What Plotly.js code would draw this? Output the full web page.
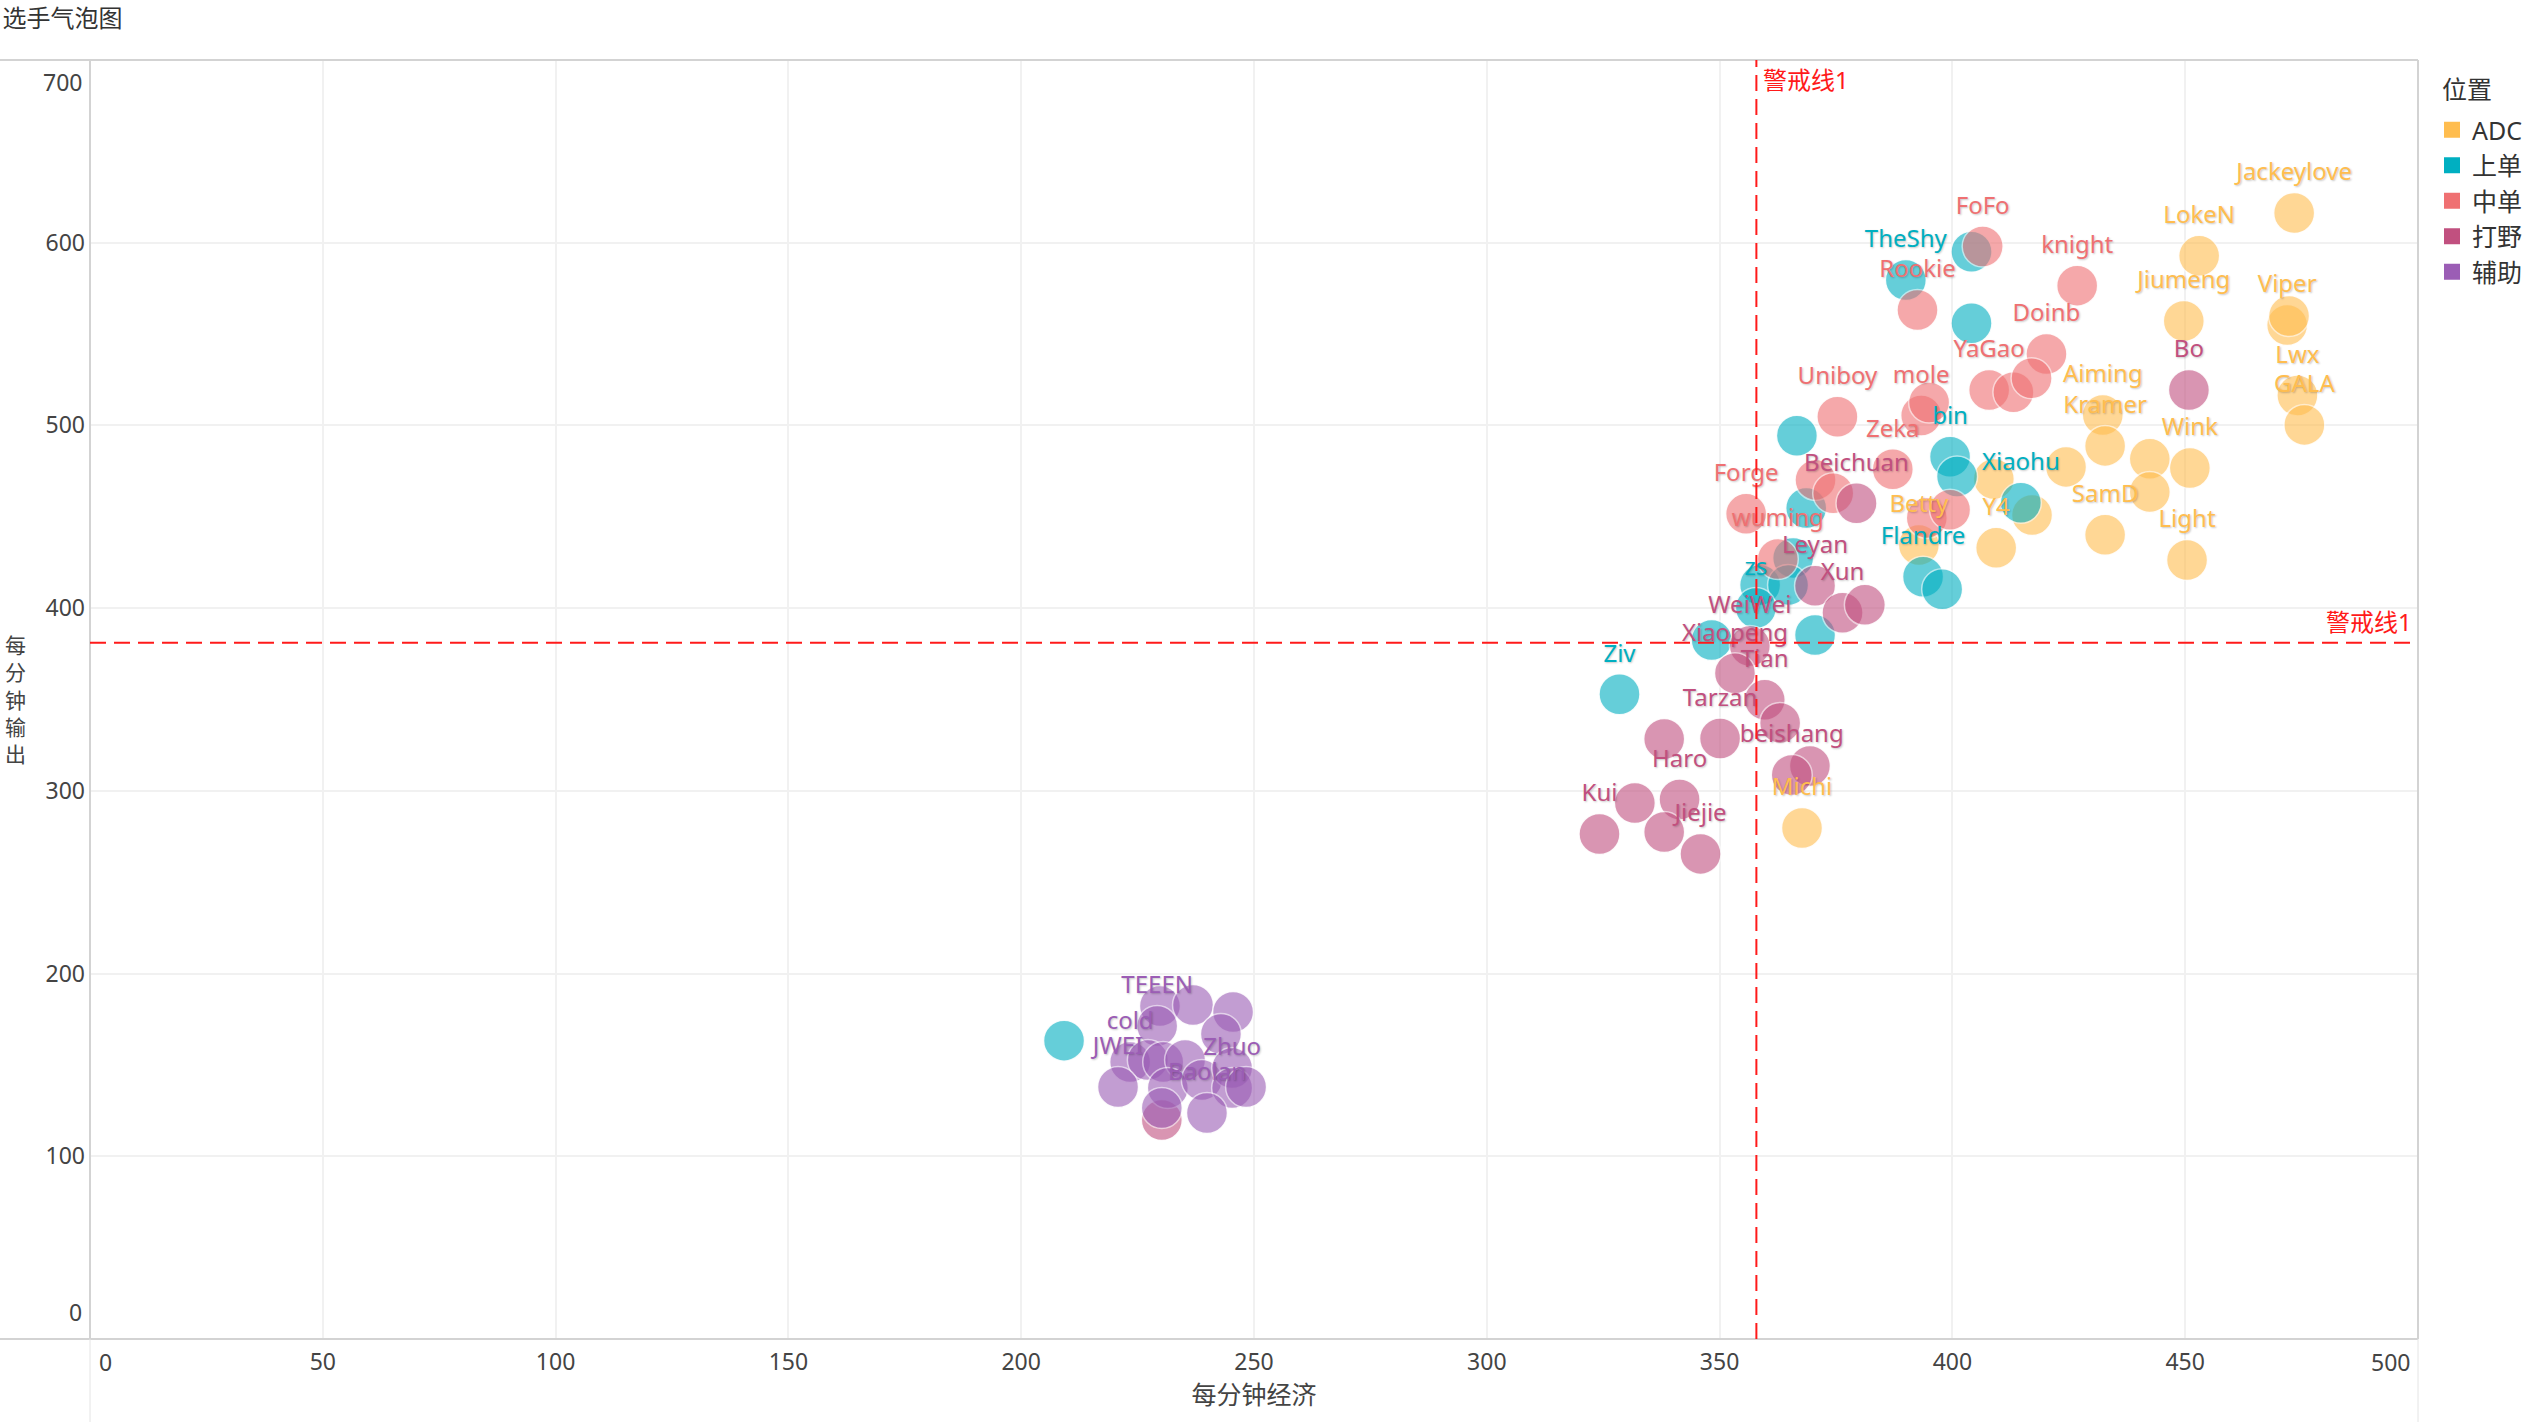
<!DOCTYPE html>
<html>
<head>
<meta charset="utf-8">
<script src="https://cdn.plot.ly/plotly-3.0.1.min.js"></script>
<style>html,body{margin:0;padding:0;background:#fff;}#chart{width:2529px;height:1422px;}</style>
</head>
<body>
<div id="chart"></div>
<script>
// ---- data ----
const categories = ['ADC', '上单', '中单', '打野', '辅助'];
const colors = ['#FFBD4F', '#00AFC1', '#EF7072', '#C1507F', '#9B5DB5'];

const adcNames = ['Jackeylove','LokeN','Jiumeng','Viper','','Lwx','GALA','Aiming','Kramer','Wink','','','','','','SamD','Light','Y4','Betty','Michi'];
const adcX = [473.4,453.0,449.7,471.9,472.3,474.1,475.6,432.3,432.8,451.0,442.4,442.4,424.4,408.9,417.1,432.8,450.4,409.4,392.8,367.7];
const adcY = [616.3,592.8,557.2,555.0,559.9,516.4,500.3,505.7,488.8,476.7,481.7,463.6,477.3,470.7,451.0,440.1,426.4,433.0,434.6,279.7];

const topNames = ['','TheShy','','','bin','','Xiaohu','','Flandre','','','','','zs','','','Ziv',''];
const topX = [404.1,390.0,404.1,366.6,399.5,401.0,414.7,368.6,393.7,397.8,365.8,358.7,364.7,357.8,348.3,370.5,328.5,209.2];
const topY = [595.1,579.6,555.9,494.4,482.9,472.0,457.7,454.8,417.2,410.3,427.5,412.7,412.7,400.1,382.6,385.3,352.9,163.3];

const midNames = ['FoFo','Rookie','knight','Doinb','YaGao','','','Uniboy','mole','','Zeka','','','Forge','','','wuming'];
const midX = [406.5,392.5,426.8,420.2,407.9,413.1,417.0,375.3,393.3,395.0,387.2,370.6,374.4,355.7,394.5,399.5,362.5];
const midY = [597.9,563.2,576.5,539.1,519.4,518.2,525.8,504.8,505.4,512.5,476.0,470.2,462.9,451.6,449.4,453.8,426.9];

const jungNames = ['Bo','Beichuan','Leyan','Xun','','WeiWei','Xiaopeng','Tian','Tarzan','','','beishang','','Haro','','Kui','','Jiejie',''];
const jungX = [450.8,379.4,370.5,376.4,381.2,356.5,353.3,359.7,350.1,363.0,369.4,365.5,338.1,341.4,331.8,324.2,338.1,345.9,230.2];
const jungY = [519.4,457.4,412.2,397.5,401.8,379.3,364.4,349.8,328.7,337.2,313.6,308.7,328.4,295.3,293.4,276.4,277.5,265.5,119.9];

const supNames = ['','','','TEEEN','','cold','','','','JWEI','','','','Zhuo','','Baolan',''];
const supX = [229.8,236.9,245.5,229.2,242.9,223.4,227.2,230.5,235.2,220.8,231.5,238.8,245.3,245.3,248.3,239.9,230.2];
const supY = [182.3,182.8,179.0,171.3,166.9,151.6,152.7,151.6,152.7,137.9,137.4,141.8,148.3,137.4,137.9,123.7,126.4];

const xTicks = [0,50,100,150,200,250,300,350,400,450,500];
const yTicks = [0,100,200,300,400,500,600,700];
const warnX = 357.9;   // 警戒线1 (每分钟经济)
const warnY = 381.0;   // 警戒线1 (每分钟输出)
const warnLabel = '警戒线1';

const titleText = '选手气泡图';
const xTitle = '每分钟经济';
const yTitle = '每分钟输出';
const legendTitle = '位置';

// ---- build ----
const FONT = "'Noto Sans', 'Noto Sans CJK SC', sans-serif";
const TICKC = '#444';
const groups = [
  [adcNames, adcX, adcY],
  [topNames, topX, topY],
  [midNames, midX, midY],
  [jungNames, jungX, jungY],
  [supNames, supX, supY]
];

const traces = [];
groups.forEach((g, i) => {
  traces.push({
    type: 'scatter', mode: 'markers', x: g[1], y: g[2], text: g[0],
    showlegend: false, hoverinfo: 'skip', cliponaxis: false,
    marker: {size: 41, color: colors[i], opacity: 0.6, line: {color: 'rgba(255,255,255,0.9)', width: 1.5}}
  });
});
groups.forEach((g, i) => {
  traces.push({
    type: 'scatter', mode: 'markers+text', x: g[1], y: g[2], text: g[0],
    textposition: 'top center', showlegend: false, hoverinfo: 'skip', cliponaxis: false,
    marker: {size: 41, color: 'rgba(0,0,0,0)', line: {width: 0}},
    textfont: {family: FONT, size: 24, color: colors[i], shadow: '1px 1px 2px rgba(0,0,0,0.22)'}
  });
});
categories.forEach((c, i) => {
  traces.push({
    type: 'scatter', mode: 'markers', x: [null], y: [null], name: c,
    showlegend: true, hoverinfo: 'skip',
    marker: {symbol: 'square', size: 20, color: colors[i]}
  });
});

// edge tick labels (clamped inside the frame, as in the original)
const annotations = [
  {text: String(xTicks[0]), xref: 'x', yref: 'paper', x: xTicks[0], y: 0, xanchor: 'left', yanchor: 'top',
   xshift: 7, yshift: -5, showarrow: false, font: {family: FONT, size: 23, color: TICKC}},
  {text: String(xTicks[xTicks.length - 1]), xref: 'x', yref: 'paper', x: xTicks[xTicks.length - 1], y: 0,
   xanchor: 'right', yanchor: 'top', xshift: -6, yshift: -5, showarrow: false, font: {family: FONT, size: 23, color: TICKC}},
  {text: String(yTicks[0]), xref: 'paper', yref: 'y', x: 0, y: yTicks[0], xanchor: 'right', yanchor: 'bottom',
   xshift: -6, yshift: 9, showarrow: false, font: {family: FONT, size: 23, color: TICKC}},
  {text: String(yTicks[yTicks.length - 1]), xref: 'paper', yref: 'y', x: 0, y: yTicks[yTicks.length - 1],
   xanchor: 'right', yanchor: 'top', xshift: -6, yshift: -4, showarrow: false, font: {family: FONT, size: 23, color: TICKC}},
  {text: warnLabel, xref: 'x', yref: 'paper', x: warnX, y: 1, xanchor: 'left', yanchor: 'top',
   xshift: 5, yshift: -1, showarrow: false, font: {family: FONT, size: 24, color: '#ff1a1a'}},
  {text: warnLabel, xref: 'paper', yref: 'y', x: 1, y: warnY, xanchor: 'right', yanchor: 'bottom',
   xshift: -4, yshift: 3, showarrow: false, font: {family: FONT, size: 24, color: '#ff1a1a'}},
  // stacked y-axis title
  {text: yTitle.split('').join('<br>'), xref: 'paper', yref: 'paper', x: -0.0318, y: 0.5,
   xanchor: 'center', yanchor: 'middle', showarrow: false, font: {family: FONT, size: 21, color: TICKC}},
  // legend title
  {text: legendTitle, xref: 'paper', yref: 'paper', x: (2440 - 90) / 2328, y: 1 - (89 - 60) / 1279,
   xanchor: 'left', yanchor: 'middle', showarrow: false, font: {family: FONT, size: 25, color: '#333'}}
];

const frame = '#d3d3d3';
const layout = {
  width: 2529, height: 1422,
  paper_bgcolor: '#fff', plot_bgcolor: '#fff',
  margin: {l: 90, r: 111, t: 60, b: 83, pad: 0},
  hovermode: false,
  font: {family: FONT, size: 23, color: '#333'},
  title: {text: titleText, font: {family: FONT, size: 24, color: '#333'},
          xref: 'container', x: 0.001, xanchor: 'left', yref: 'container', y: 0.987, yanchor: 'middle'},
  xaxis: {
    range: [0, 500], tickvals: xTicks.slice(1, -1), ticktext: xTicks.slice(1, -1).map(String),
    showgrid: true, gridcolor: '#f1f1f1', gridwidth: 2, zeroline: false, showline: false,
    ticks: '', ticklabelstandoff: 7, tickfont: {family: FONT, size: 23, color: TICKC},
    title: {text: xTitle, font: {family: FONT, size: 25, color: TICKC}, standoff: 7},
    automargin: false, fixedrange: true
  },
  yaxis: {
    range: [0, 700], tickvals: yTicks.slice(1, -1), ticktext: yTicks.slice(1, -1).map(String),
    showgrid: true, gridcolor: '#f1f1f1', gridwidth: 2, zeroline: false, showline: false,
    ticks: '', ticklabelstandoff: 4, tickfont: {family: FONT, size: 23, color: TICKC},
    automargin: false, fixedrange: true
  },
  legend: {
    xref: 'container', yref: 'container',
    x: 2432 / 2529, xanchor: 'left', y: 1 - 107 / 1422, yanchor: 'top',
    bgcolor: 'rgba(0,0,0,0)', borderwidth: 0,
    font: {family: FONT, size: 25, color: '#333'},
    itemsizing: 'trace', itemclick: false, itemdoubleclick: false
  },
  shapes: [
    // frame
    {type: 'line', xref: 'paper', yref: 'paper', x0: -0.0387, x1: 1, y0: 1, y1: 1, line: {color: frame, width: 2}},
    {type: 'line', xref: 'paper', yref: 'paper', x0: -0.0387, x1: 1, y0: 0, y1: 0, line: {color: frame, width: 2}},
    {type: 'line', xref: 'paper', yref: 'paper', x0: 0, x1: 0, y0: 0, y1: 1, line: {color: frame, width: 2}},
    {type: 'line', xref: 'paper', yref: 'paper', x0: 1, x1: 1, y0: 0, y1: 1, line: {color: frame, width: 2}},
    {type: 'line', xref: 'paper', yref: 'paper', x0: 0, x1: 0, y0: -0.07, y1: 0, line: {color: '#e4e4e4', width: 1}},
    {type: 'line', xref: 'paper', yref: 'paper', x0: 1, x1: 1, y0: -0.07, y1: 0, line: {color: '#e4e4e4', width: 1}},
    // warning lines
    {type: 'line', xref: 'x', yref: 'paper', x0: warnX, x1: warnX, y0: 0, y1: 1, layer: 'above',
     line: {color: '#ff1a1a', width: 2, dash: '16px,8px'}},
    {type: 'line', xref: 'paper', yref: 'y', x0: 0, x1: 1, y0: warnY, y1: warnY, layer: 'above',
     line: {color: '#ff1a1a', width: 2, dash: '16px,8px'}}
  ],
  annotations: annotations
};

Plotly.newPlot('chart', traces, layout, {displayModeBar: false, staticPlot: true});
</script>
</body>
</html>
